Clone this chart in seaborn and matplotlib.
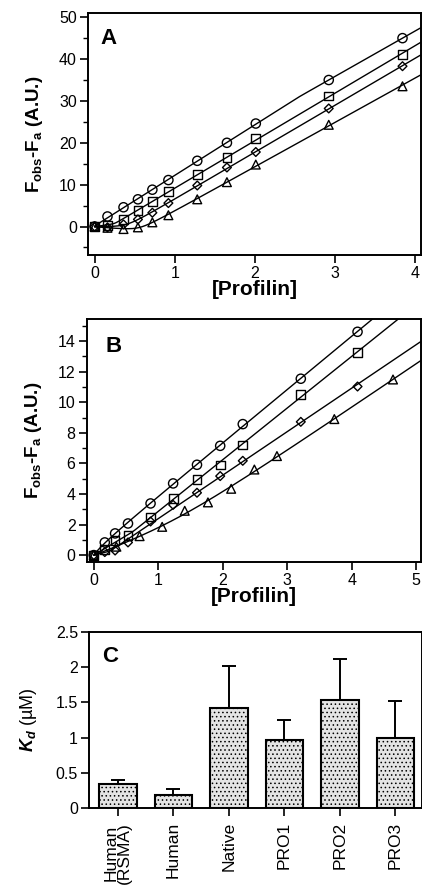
import numpy as np
import pandas as pd
import seaborn as sns
import matplotlib
matplotlib.use("Agg")
import matplotlib.pyplot as plt
from matplotlib.ticker import MultipleLocator, FormatStrFormatter

sns.set_theme(style="ticks")
plt.rcParams["font.family"] = ["Liberation Sans", "DejaVu Sans"]
plt.rcParams["mathtext.fontset"] = "custom"
plt.rcParams["mathtext.rm"] = "Liberation Sans"
plt.rcParams["mathtext.it"] = "Liberation Sans:italic"
plt.rcParams["mathtext.bf"] = "Liberation Sans:bold"
plt.rcParams["mathtext.bfit"] = "Liberation Sans:italic:bold"
plt.rcParams["hatch.linewidth"] = 0.6
plt.rcParams["text.color"] = "black"
plt.rcParams["axes.labelcolor"] = "black"
plt.rcParams["xtick.color"] = "black"
plt.rcParams["ytick.color"] = "black"

# ---- panel A data ----
a_x = [0, 0.16, 0.36, 0.54, 0.72, 0.92, 1.28, 1.65, 2.01, 2.92, 3.84]
a_circle = [0, 2.4, 4.6, 6.5, 8.8, 11.1, 15.7, 20.0, 24.6, 35.0, 45.0]
a_square = [0, 0.3, 1.7, 3.8, 6.0, 8.3, 12.5, 16.5, 21.1, 31.2, 41.0]
a_diamond = [0, -0.2, 0.5, 1.7, 3.3, 5.6, 9.8, 14.1, 17.8, 28.2, 38.3]
a_triangle = [0, -0.3, -0.6, -0.2, 1.0, 2.7, 6.5, 10.6, 14.8, 24.3, 33.5]

# ---- panel B data ----
b_x = [0, 0.17, 0.33, 0.53, 0.88, 1.23, 1.6, 1.96, 2.31, 3.21, 4.09]
b_circle = [0, 0.83, 1.42, 2.07, 3.38, 4.69, 5.91, 7.15, 8.57, 11.54, 14.61]
b_square = [0, 0.37, 0.94, 1.29, 2.49, 3.71, 4.95, 5.89, 7.2, 10.53, 13.26]
b_diamond = [0, 0.2, 0.3, 0.83, 2.2, 3.29, 4.08, 5.17, 6.17, 8.72, 11.03]
b_tri_x = [0, 0.35, 0.71, 1.06, 1.41, 1.77, 2.13, 2.49, 2.84, 3.73, 4.64]
b_triangle = [0, 0.55, 1.24, 1.85, 2.9, 3.45, 4.34, 5.6, 6.48, 8.9, 11.49]

# ---- panel C data ----
c_labels = ["Human\n(RSMA)", "Human", "Native", "PRO1", "PRO2", "PRO3"]
c_kd = [0.34, 0.19, 1.42, 0.97, 1.54, 1.0]
c_err = [0.06, 0.09, 0.59, 0.28, 0.57, 0.52]

fig = plt.figure(figsize=(4.22, 8.86), dpi=100)
axA = fig.add_axes([0.2085, 0.7122, 0.789, 0.2731])
axB = fig.add_axes([0.2055, 0.3657, 0.7915, 0.2743])
axC = fig.add_axes([0.2109, 0.0877, 0.788, 0.1993])

styles = [("o", 44), ("s", 40), ("D", 20), ("^", 40)]


def hyper_fit(x, y):
    # least squares fit of y = a*x + b*sqrt((x-h)^2 + c) + d, grid over h, c
    x = np.asarray(x, float)
    y = np.asarray(y, float)
    best = None
    for h in np.linspace(-1, 3, 81):
        for c in np.logspace(-3, 1, 50):
            M = np.column_stack([x, np.sqrt((x - h) ** 2 + c), np.ones_like(x)])
            p, *_ = np.linalg.lstsq(M, y, rcond=None)
            sse = np.sum((M @ p - y) ** 2)
            if best is None or sse < best[0]:
                best = (sse, h, c, p)
    _, h, c, p = best
    return lambda t: p[0] * t + p[1] * np.sqrt((t - h) ** 2 + c) + p[2]


def titration(ax, xs, ys, xend):
    for x, y, (m, s) in zip(xs, ys, styles):
        df = pd.DataFrame({"x": x, "y": y})
        f = hyper_fit(df.x, df.y)
        xx = np.linspace(0, xend, 200)
        sns.lineplot(x=xx, y=f(xx), ax=ax, color="black", lw=1.0)
        sns.scatterplot(data=df, x="x", y="y", ax=ax, marker=m, s=s,
                        facecolor="none", edgecolor="black", linewidth=1.0, zorder=3)


def style_axes(ax):
    for sp in ax.spines.values():
        sp.set_linewidth(1.4)
        sp.set_color("black")
    ax.tick_params(axis="both", which="major", direction="out", length=6, width=1.2,
                   labelsize=11.5, colors="black", pad=2)
    ax.tick_params(axis="both", which="minor", direction="out", length=3.5, width=1.0)


titration(axA, [a_x] * 4, [a_circle, a_square, a_diamond, a_triangle], 4.07)
axA.set_xlim(-0.083, 4.07)
axA.set_ylim(-6.8, 51)
axA.xaxis.set_major_locator(MultipleLocator(1))
axA.yaxis.set_major_locator(MultipleLocator(10))
axA.yaxis.set_minor_locator(MultipleLocator(5))
axA.text(0.036, 0.87, "A", transform=axA.transAxes, fontsize=16, fontweight="bold")

titration(axB, [b_x, b_x, b_x, b_tri_x], [b_circle, b_square, b_diamond, b_triangle], 5.07)
axB.set_xlim(-0.11, 5.07)
axB.set_ylim(-0.45, 15.45)
axB.xaxis.set_major_locator(MultipleLocator(1))
axB.yaxis.set_major_locator(MultipleLocator(2))
axB.yaxis.set_minor_locator(MultipleLocator(1))
axB.text(0.057, 0.865, "B", transform=axB.transAxes, fontsize=16, fontweight="bold")

for ax in (axA, axB):
    style_axes(ax)
    ax.set_xlabel("[Profilin]", fontsize=15, fontweight="bold", labelpad=-1)
    ax.set_ylabel(r"$\mathbf{F_{obs}}$-$\mathbf{F_a}$ (A.U.)", fontsize=13.5,
                  fontweight="bold", labelpad=10)

# panel C
dfc = pd.DataFrame({"label": c_labels, "kd": c_kd, "err": c_err})
sns.barplot(data=dfc, x="label", y="kd", ax=axC, color="#e4e4e4", width=0.68,
            edgecolor="black", linewidth=1.5, hatch="....", saturation=1, errorbar=None)
axC.errorbar(np.arange(len(c_kd)), dfc.kd, yerr=[np.zeros(len(c_kd)), dfc.err],
             fmt="none", ecolor="black", elinewidth=1.4, capsize=5, capthick=1.4, zorder=1)
axC.set_xlim(-0.52, 5.47)
axC.set_ylim(0, 2.5)
axC.yaxis.set_major_locator(MultipleLocator(0.5))
axC.yaxis.set_major_formatter(FormatStrFormatter("%g"))
style_axes(axC)
axC.tick_params(axis="x", labelsize=12.5, rotation=90, length=6, pad=4)
for t in axC.get_xticklabels():
    t.set_linespacing(0.85)
axC.set_xlabel("")
axC.set_ylabel(r"$\mathbfit{K_d}$ (µM)", fontsize=13, labelpad=12)
axC.text(0.038, 0.83, "C", transform=axC.transAxes, fontsize=16, fontweight="bold")

fig.savefig("out.png", dpi=100)
